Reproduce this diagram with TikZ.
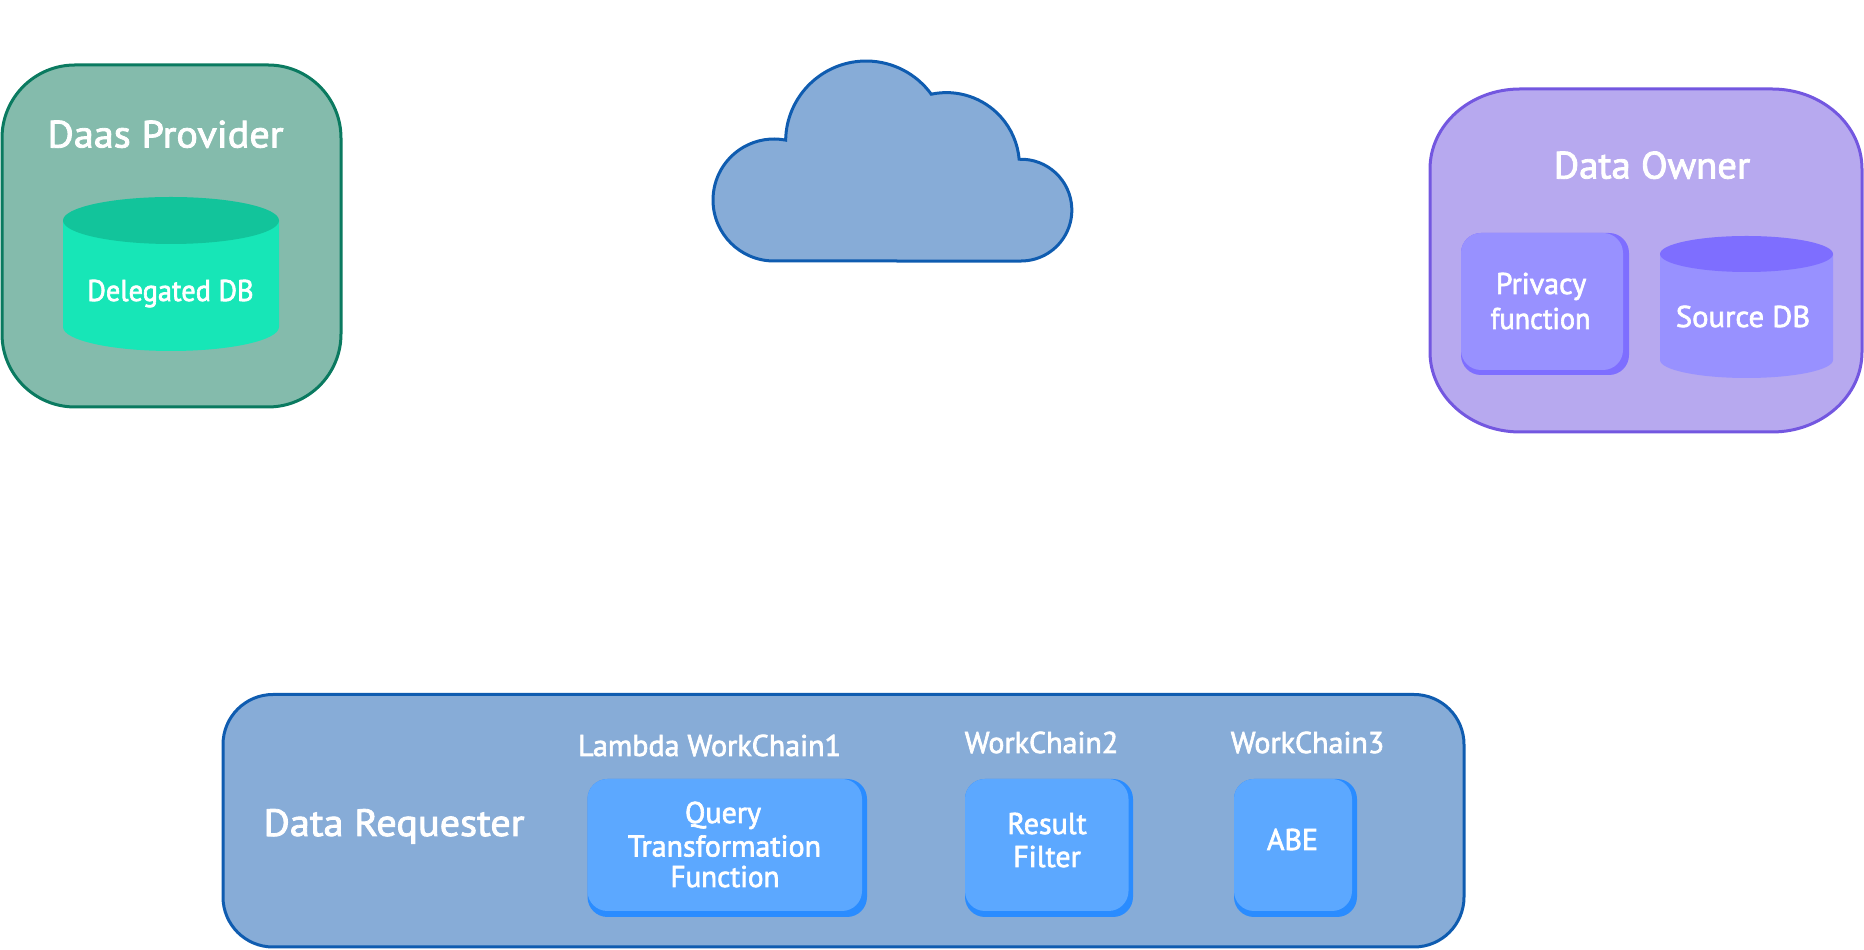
\documentclass[tikz,border=0pt]{standalone}
\usepackage{graphicx}
\usepackage{fontspec}
\setmainfont[FakeBold=2.2]{PT Sans}
\newcommand{\sx}[2]{\scalebox{#1}[1]{#2}}
\definecolor{daasfill}{HTML}{84BBAC}
\definecolor{daasline}{HTML}{0A7A60}
\definecolor{cylbody}{HTML}{17E6B7}
\definecolor{cyltop}{HTML}{12C49B}
\definecolor{cloudfill}{HTML}{87ACD7}
\definecolor{cloudline}{HTML}{0F5CB0}
\definecolor{ownerfill}{HTML}{B7A9EF}
\definecolor{ownerline}{HTML}{7357E0}
\definecolor{violetbox}{HTML}{9891FF}
\definecolor{violetdark}{HTML}{7E6EFF}
\definecolor{bluebox}{HTML}{5CA8FF}
\definecolor{bluedark}{HTML}{2A8CFF}
\tikzset{
  x=1pt,y=1pt,
  panel/.style={rectangle,inner sep=0pt,outer sep=0pt,line width=3pt},
  chip/.style={rectangle,inner sep=0pt,outer sep=0pt,rounded corners=20pt},
  big/.style={inner sep=0pt,anchor=base,text=white,font=\fontsize{38}{38}\selectfont},
  small/.style={inner sep=0pt,anchor=base,text=white,font=\fontsize{30}{30}\selectfont},
}
\begin{document}
\begin{tikzpicture}
\useasboundingbox (0,0) rectangle (1864,950);
% Daas provider
\node[panel,draw=daasline,fill=daasfill,rounded corners=73pt,minimum width=339pt,minimum height=342pt] (daas) at (171.5,714) {};
\fill[cylbody] (63,729.5) -- (63,623) arc[start angle=180,end angle=360,x radius=108pt,y radius=24pt] -- (279,729.5) -- cycle;
\fill[cyltop] (171,729.5) ellipse[x radius=108pt,y radius=23.5pt];
\node[big] (daaslabel) at (165.5,802.5) {\sx{1.06}{Daas Provider}};
\node[small] (delegated) at (170.5,649) {\sx{0.945}{Delegated DB}};
% Cloud
\draw[line width=3pt,draw=cloudline,fill=cloudfill,line join=miter]
  (774,689) arc[start angle=-90,end angle=-281,radius=61pt]
  arc[start angle=179,end angle=36,radius=80.5pt]
  arc[start angle=102,end angle=5,radius=73pt]
  arc[start angle=92,end angle=-90,radius=50.9pt] -- (774,689) -- cycle;
% Data owner
\draw[line width=3pt,draw=ownerline,fill=ownerfill]
  (1430,781) arc[start angle=180,end angle=90,x radius=90pt,y radius=80pt]
  -- (1772,861) arc[start angle=90,end angle=0,x radius=90pt,y radius=80pt]
  -- (1862,598) arc[start angle=0,end angle=-90,x radius=90pt,y radius=80pt]
  -- (1520,518) arc[start angle=-90,end angle=-180,x radius=90pt,y radius=80pt] -- cycle;
\node[big] (ownerlabel) at (1652,771.5) {\sx{1.02}{Data Owner}};
\node[chip,fill=violetdark,minimum width=168pt,minimum height=142pt] (privshadow) at (1545,646) {};
\node[chip,fill=violetbox,minimum width=162pt,minimum height=137pt] (privbox) at (1542,648.5) {};
\node[small] (privacy) at (1541,656) {Privacy};
\node[small] (function) at (1540.5,621) {\sx{0.94}{function}};
\fill[violetbox] (1660,696) -- (1660,590) arc[start angle=180,end angle=360,x radius=86.5pt,y radius=18pt] -- (1833,696) -- cycle;
\fill[violetdark] (1746.5,696) ellipse[x radius=86.5pt,y radius=18pt];
\node[small] (source) at (1743,623) {\sx{1.02}{Source DB}};
% Data requester
\node[panel,draw=cloudline,fill=cloudfill,rounded corners=50pt,minimum width=1241pt,minimum height=252.5pt] (req) at (843.5,129.25) {};
\node[big] (reqlabel) at (394,114) {\sx{1.06}{Data Requester}};
\node[small] (wc1) at (709.5,194) {Lambda WorkChain1};
\node[small] (wc2) at (1041.5,197) {WorkChain2};
\node[small] (wc3) at (1307.5,197) {WorkChain3};
\node[chip,fill=bluedark,minimum width=279.5pt,minimum height=138pt] (qshadow) at (727.25,102) {};
\node[chip,fill=bluebox,minimum width=274.5pt,minimum height=132pt] (qbox) at (724.75,105) {};
\node[small] (query) at (723,127) {Query};
\node[small] (transf) at (724.5,93.5) {Transformation};
\node[small] (func) at (725,63) {\sx{0.97}{Function}};
\node[chip,fill=bluedark,minimum width=168pt,minimum height=138pt] (rshadow) at (1049,102) {};
\node[chip,fill=bluebox,minimum width=163.5pt,minimum height=132pt] (rbox) at (1046.75,105) {};
\node[small] (result) at (1047,116) {Result};
\node[small] (filter) at (1047,83) {Filter};
\node[chip,fill=bluedark,minimum width=123pt,minimum height=138pt] (ashadow) at (1295.5,102) {};
\node[chip,fill=bluebox,minimum width=118pt,minimum height=132pt] (abox) at (1293,105) {};
\node[small] (abe) at (1292.5,100) {ABE};
\end{tikzpicture}
\end{document}
